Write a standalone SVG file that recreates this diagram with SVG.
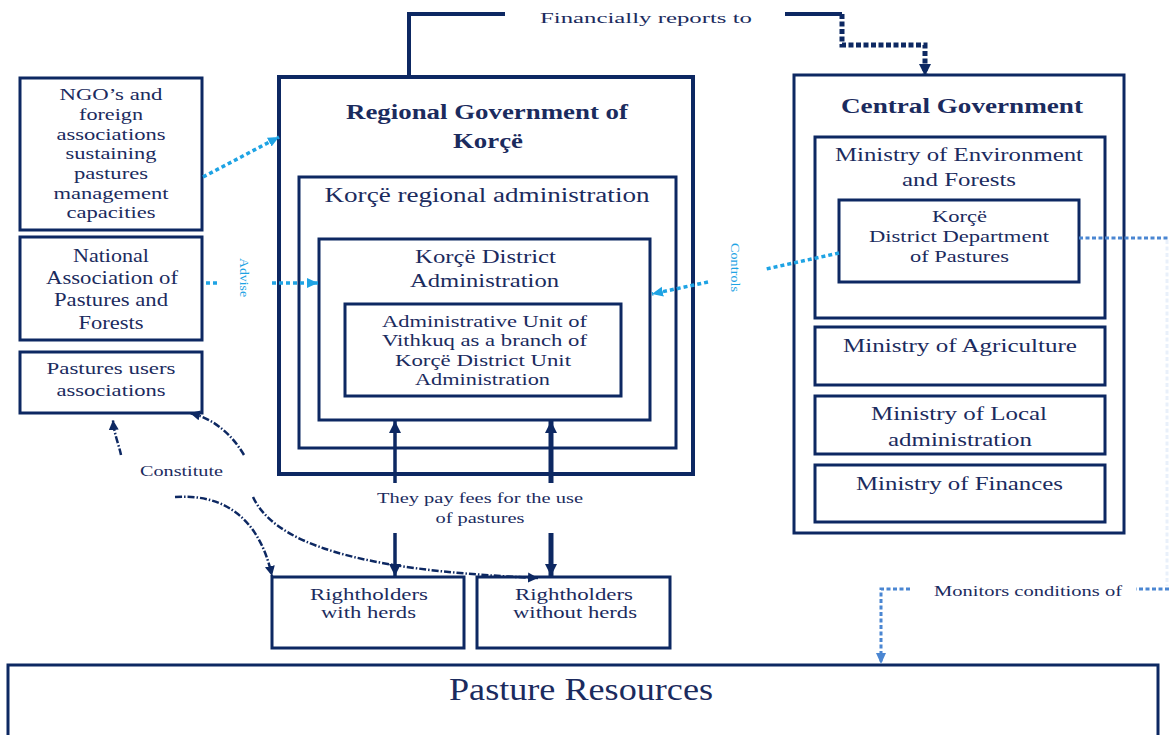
<svg xmlns="http://www.w3.org/2000/svg" width="1169" height="735" viewBox="0 0 1169 735">
  <style>
    .box { fill: #ffffff; stroke: #0d2862; stroke-width: 3; }
    .thick { stroke-width: 4; }
    .t { font-family: "Liberation Serif", "Times New Roman", serif; fill: #1b2b5e; text-anchor: middle; }
    .b { font-weight: bold; }
    .lbl { font-family: "Liberation Serif", "Times New Roman", serif; fill: #1b2b5e; text-anchor: middle; font-size: 15px; }
    .cyanlbl { font-family: "Liberation Serif", "Times New Roman", serif; fill: #1ea3e4; font-size: 12px; }
    .solid { fill: none; stroke: #0d2862; stroke-width: 4; }
    .navydots { fill: none; stroke: #0d2862; stroke-width: 5; stroke-dasharray: 5 2.5; }
    .cyandots { fill: none; stroke: #1ea3e4; stroke-width: 3.5; stroke-dasharray: 4 3; }
    .bluedots { fill: none; stroke: #4a86d2; stroke-width: 3; stroke-dasharray: 4 2.5; }
    .fee { fill: none; stroke: #0d2862; }
    .curve { fill: none; stroke: #0d2862; stroke-width: 2.5; stroke-dasharray: 7 2 1.5 2; }
  </style>
  <defs>
    <marker id="navyHead" markerUnits="userSpaceOnUse" markerWidth="14" markerHeight="14" refX="12" refY="7" orient="auto">
      <path d="M0,1 L12,7 L0,13 Z" fill="#0d2862"/>
    </marker>
    <marker id="smallNavyHead" markerUnits="userSpaceOnUse" markerWidth="12" markerHeight="12" refX="10" refY="6" orient="auto">
      <path d="M0,1 L10,6 L0,11 Z" fill="#0d2862"/>
    </marker>
    <marker id="cyanHead" markerUnits="userSpaceOnUse" markerWidth="13" markerHeight="12" refX="11" refY="6" orient="auto">
      <path d="M0,1 L11,6 L0,11 Z" fill="#1ea3e4"/>
    </marker>
    <marker id="blueHead" markerUnits="userSpaceOnUse" markerWidth="13" markerHeight="12" refX="11" refY="6" orient="auto">
      <path d="M0,1 L11,6 L0,11 Z" fill="#4a86d2"/>
    </marker>
  </defs>

  <!-- Left column: supporting organisations -->
  <g id="ngo">
    <rect class="box" x="20" y="78" width="182" height="152"/>
    <text class="t" font-size="16.5" x="111" y="100" textLength="103" lengthAdjust="spacingAndGlyphs">NGO’s and</text>
    <text class="t" font-size="16.5" x="111" y="120" textLength="64" lengthAdjust="spacingAndGlyphs">foreign</text>
    <text class="t" font-size="16.5" x="111" y="140" textLength="109" lengthAdjust="spacingAndGlyphs">associations</text>
    <text class="t" font-size="16.5" x="111" y="159" textLength="91" lengthAdjust="spacingAndGlyphs">sustaining</text>
    <text class="t" font-size="16.5" x="111" y="179" textLength="74" lengthAdjust="spacingAndGlyphs">pastures</text>
    <text class="t" font-size="16.5" x="111" y="199" textLength="115" lengthAdjust="spacingAndGlyphs">management</text>
    <text class="t" font-size="16.5" x="111" y="218" textLength="89" lengthAdjust="spacingAndGlyphs">capacities</text>
  </g>
  <g id="national-association">
    <rect class="box" x="20" y="237" width="182" height="103"/>
    <text class="t" font-size="18" x="111" y="262" textLength="76" lengthAdjust="spacingAndGlyphs">National</text>
    <text class="t" font-size="18" x="112" y="284" textLength="132" lengthAdjust="spacingAndGlyphs">Association of</text>
    <text class="t" font-size="18" x="111" y="306" textLength="114" lengthAdjust="spacingAndGlyphs">Pastures and</text>
    <text class="t" font-size="18" x="111" y="329" textLength="65" lengthAdjust="spacingAndGlyphs">Forests</text>
  </g>
  <g id="users-associations">
    <rect class="box" x="20" y="352" width="182" height="61"/>
    <text class="t" font-size="17" x="111" y="374" textLength="129" lengthAdjust="spacingAndGlyphs">Pastures users</text>
    <text class="t" font-size="17" x="111" y="396" textLength="109" lengthAdjust="spacingAndGlyphs">associations</text>
  </g>

  <!-- Regional government and its nested administrations -->
  <g id="regional-government">
    <rect class="box thick" x="279" y="77" width="414" height="397"/>
    <text class="t b" font-size="20" x="487" y="119" textLength="282" lengthAdjust="spacingAndGlyphs">Regional Government of</text>
    <text class="t b" font-size="20" x="488" y="148" textLength="70" lengthAdjust="spacingAndGlyphs">Korçë</text>
  </g>
  <g id="regional-administration">
    <rect class="box" x="299" y="177" width="377" height="271"/>
    <text class="t" font-size="20" x="487" y="202" textLength="325" lengthAdjust="spacingAndGlyphs">Korçë regional administration</text>
  </g>
  <g id="district-administration">
    <rect class="box" x="319" y="239" width="331" height="181"/>
    <text class="t" font-size="18" x="485.5" y="263" textLength="141" lengthAdjust="spacingAndGlyphs">Korçë District</text>
    <text class="t" font-size="18" x="484.5" y="287" textLength="149" lengthAdjust="spacingAndGlyphs">Administration</text>
  </g>
  <g id="vithkuq-unit">
    <rect class="box" x="345" y="304" width="276" height="92"/>
    <text class="t" font-size="16.5" x="484.5" y="327" textLength="205" lengthAdjust="spacingAndGlyphs">Administrative Unit of</text>
    <text class="t" font-size="16.5" x="484.5" y="346" textLength="205" lengthAdjust="spacingAndGlyphs">Vithkuq as a branch of</text>
    <text class="t" font-size="16.5" x="483" y="366" textLength="176" lengthAdjust="spacingAndGlyphs">Korçë District Unit</text>
    <text class="t" font-size="16.5" x="482.5" y="385" textLength="135" lengthAdjust="spacingAndGlyphs">Administration</text>
  </g>

  <!-- Central government and ministries -->
  <g id="central-government">
    <rect class="box" x="794" y="75" width="330" height="458"/>
    <text class="t b" font-size="20" x="962" y="113" textLength="242" lengthAdjust="spacingAndGlyphs">Central Government</text>
  </g>
  <g id="ministry-environment">
    <rect class="box" x="815" y="137" width="290" height="181"/>
    <text class="t" font-size="18" x="959" y="161" textLength="248" lengthAdjust="spacingAndGlyphs">Ministry of Environment</text>
    <text class="t" font-size="18" x="959" y="186" textLength="114" lengthAdjust="spacingAndGlyphs">and Forests</text>
  </g>
  <g id="district-department">
    <rect class="box" x="839" y="200" width="240" height="82"/>
    <text class="t" font-size="17" x="959.5" y="222" textLength="55" lengthAdjust="spacingAndGlyphs">Korçë</text>
    <text class="t" font-size="17" x="959" y="242" textLength="180" lengthAdjust="spacingAndGlyphs">District Department</text>
    <text class="t" font-size="17" x="959.5" y="262" textLength="99" lengthAdjust="spacingAndGlyphs">of Pastures</text>
  </g>
  <g id="ministry-agriculture">
    <rect class="box" x="815" y="327" width="290" height="58"/>
    <text class="t" font-size="18" x="960" y="352" textLength="234" lengthAdjust="spacingAndGlyphs">Ministry of Agriculture</text>
  </g>
  <g id="ministry-local">
    <rect class="box" x="815" y="396" width="290" height="58"/>
    <text class="t" font-size="18" x="959" y="420" textLength="176" lengthAdjust="spacingAndGlyphs">Ministry of Local</text>
    <text class="t" font-size="18" x="960" y="446" textLength="144" lengthAdjust="spacingAndGlyphs">administration</text>
  </g>
  <g id="ministry-finances">
    <rect class="box" x="815" y="465" width="290" height="57"/>
    <text class="t" font-size="18" x="959.5" y="490" textLength="207" lengthAdjust="spacingAndGlyphs">Ministry of Finances</text>
  </g>

  <!-- Right holders -->
  <g id="rightholders-herds">
    <rect class="box" x="272" y="577" width="192" height="71"/>
    <text class="t" font-size="17" x="369" y="600" textLength="118" lengthAdjust="spacingAndGlyphs">Rightholders</text>
    <text class="t" font-size="17" x="368.5" y="618" textLength="95" lengthAdjust="spacingAndGlyphs">with herds</text>
  </g>
  <g id="rightholders-no-herds">
    <rect class="box" x="477" y="577" width="193" height="71"/>
    <text class="t" font-size="17" x="574" y="600" textLength="118" lengthAdjust="spacingAndGlyphs">Rightholders</text>
    <text class="t" font-size="17" x="575" y="618" textLength="124" lengthAdjust="spacingAndGlyphs">without herds</text>
  </g>

  <!-- Pasture resources -->
  <g id="pasture-resources">
    <rect class="box" x="8" y="665" width="1150" height="80"/>
    <text class="t" font-size="31" x="581" y="700" textLength="264" lengthAdjust="spacingAndGlyphs">Pasture Resources</text>
  </g>

  <!-- Connectors -->
  <g id="connectors">
    <!-- financial reporting -->
    <path class="solid" d="M409,77 V14 H505"/>
    <path class="solid" d="M785,14 H842"/>
    <path class="navydots" d="M842,14 V45 H925 V76" marker-end="url(#navyHead)"/>
    <text class="lbl" font-size="17" x="646" y="23" textLength="212" lengthAdjust="spacingAndGlyphs">Financially reports to</text>

    <!-- NGO support -->
    <path class="cyandots" d="M203,177 L279,137" marker-end="url(#cyanHead)"/>

    <!-- advice -->
    <path class="cyandots" d="M206,283 H217"/>
    <path class="cyandots" d="M272,283 H318" marker-end="url(#cyanHead)"/>
    <text class="cyanlbl" transform="translate(240,258) rotate(90)" textLength="39" lengthAdjust="spacingAndGlyphs">Advise</text>

    <!-- control -->
    <path class="cyandots" d="M839,253 L766,269"/>
    <path class="cyandots" d="M708,282 L652,294" marker-end="url(#cyanHead)"/>
    <text class="cyanlbl" transform="translate(731,243) rotate(90)" textLength="49" lengthAdjust="spacingAndGlyphs">Controls</text>

    <!-- monitoring -->
    <path class="bluedots" d="M1079,238 H1169"/>
    <path class="bluedots" d="M1167,240 V586" stroke-opacity="0.12" stroke-width="1.5"/>
    <path class="bluedots" d="M1169,589 H1136"/>
    <path class="bluedots" d="M910,589 H881 V664" marker-end="url(#blueHead)"/>
    <text class="lbl" x="1028" y="596" textLength="188" lengthAdjust="spacingAndGlyphs">Monitors conditions of</text>

    <!-- fees -->
    <path class="fee" stroke-width="3.5" d="M395,483 V421" marker-end="url(#navyHead)"/>
    <path class="fee" stroke-width="5" d="M551,483 V421" marker-end="url(#navyHead)"/>
    <path class="fee" stroke-width="3.5" d="M395,533 V576" marker-end="url(#navyHead)"/>
    <path class="fee" stroke-width="5" d="M551,533 V576" marker-end="url(#navyHead)"/>
    <text class="lbl" x="480" y="503" textLength="206" lengthAdjust="spacingAndGlyphs">They pay fees for the use</text>
    <text class="lbl" x="480" y="523" textLength="89" lengthAdjust="spacingAndGlyphs">of pastures</text>

    <!-- constitute -->
    <path class="curve" d="M121,455 C119,445 114,434 113,420" marker-end="url(#smallNavyHead)"/>
    <path class="curve" d="M244,455 C232,435 215,419 190,413" marker-end="url(#smallNavyHead)"/>
    <path class="curve" d="M175,497 C218,494 258,512 272,576" marker-end="url(#smallNavyHead)"/>
    <path class="curve" d="M253,497 C280,555 400,572 538,578" marker-end="url(#smallNavyHead)"/>
    <text class="lbl" x="181.5" y="476" textLength="83" lengthAdjust="spacingAndGlyphs">Constitute</text>
  </g>
</svg>
